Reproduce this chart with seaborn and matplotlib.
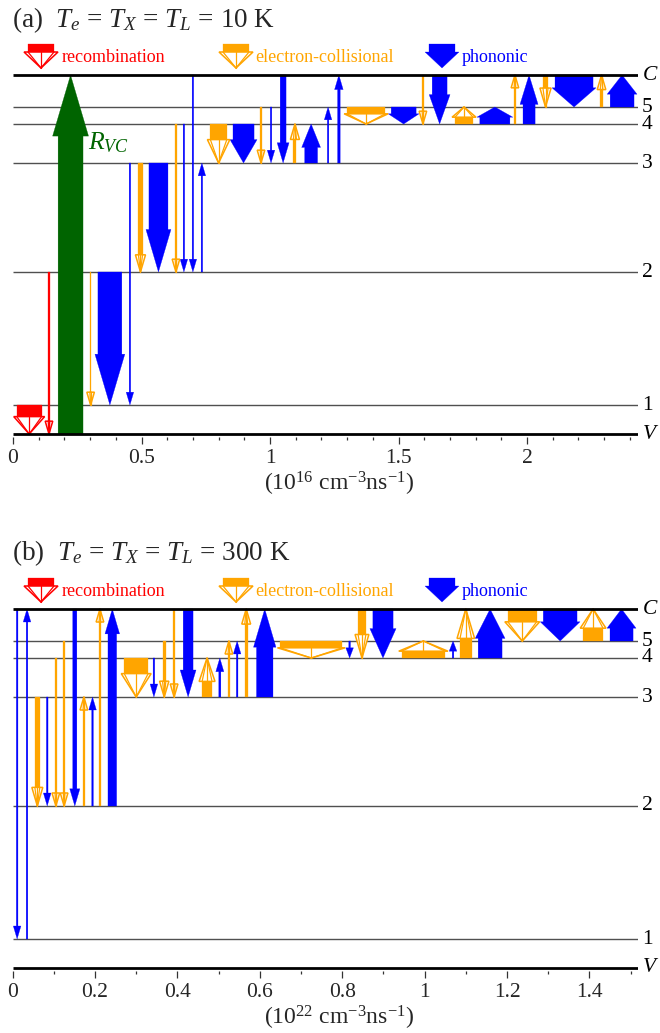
import matplotlib
matplotlib.use("Agg")
import matplotlib.pyplot as plt
import seaborn as sns
from matplotlib.patches import Polygon
from matplotlib.lines import Line2D
from matplotlib.ticker import MultipleLocator, FuncFormatter

# ---------------- data ----------------
LEVEL_NAMES = ["V", "1", "2", "3", "4", "5", "C"]
LEVEL_POS = [0, 29, 162, 271, 310, 327, 359]

KIND_COLOR = {"rec": "#FF0000", "col": "#FFA500", "pho": "#0000FF", "gen": "#006400"}
LEGEND_KINDS = ["rec", "col", "pho"]
LEGEND_LABELS = ["recombination", "electron-collisional", "phononic"]

# Panel (a): T = 10 K, rates in 1e16 cm^-3 ns^-1
A_X = [0.063, 0.140, 0.224, 0.302, 0.377, 0.455, 0.496, 0.566, 0.634, 0.665,
       0.700, 0.735, 0.800, 0.897, 0.965, 1.004, 1.051, 1.097, 1.160, 1.226,
       1.268, 1.374, 1.520, 1.595, 1.660, 1.755, 1.875, 1.953, 2.008, 2.072,
       2.183, 2.290, 2.370]
A_W = [0.097, 0.006, 0.097, 0.006, 0.093, 0.006, 0.016, 0.074, 0.006, 0.006,
       0.006, 0.006, 0.064, 0.082, 0.006, 0.006, 0.023, 0.012, 0.050, 0.006,
       0.010, 0.148, 0.097, 0.006, 0.058, 0.070, 0.117, 0.006, 0.047, 0.020,
       0.148, 0.010, 0.093]
A_FROM = ["1", "2", "V", "2", "2", "3", "3", "3", "4", "4",
          "C", "2", "4", "4", "5", "5", "C", "3", "3", "3",
          "3", "5", "5", "C", "C", "4", "4", "4", "4", "C",
          "C", "5", "5"]
A_TO = ["V", "V", "C", "1", "1", "1", "2", "2", "2", "2",
        "2", "3", "3", "3", "3", "3", "3", "4", "4", "5",
        "C", "4", "4", "4", "4", "5", "5", "C", "C", "5",
        "5", "C", "C"]
A_KIND = ["rec", "rec", "gen", "col", "pho", "pho", "col", "pho", "col", "pho",
          "pho", "pho", "col", "pho", "col", "pho", "pho", "col", "pho", "pho",
          "pho", "col", "pho", "col", "pho", "col", "pho", "col", "pho", "col",
          "pho", "col", "pho"]

# Panel (b): T = 300 K, rates in 1e22 cm^-3 ns^-1
B_X = [0.011, 0.035, 0.060, 0.084, 0.105, 0.125, 0.151, 0.173, 0.194, 0.212,
       0.242, 0.300, 0.343, 0.368, 0.392, 0.426, 0.472, 0.503, 0.525, 0.545,
       0.567, 0.612, 0.725, 0.818, 0.848, 0.899, 0.997, 1.069, 1.100, 1.159,
       1.237, 1.329, 1.409, 1.478]
B_W = [0.004, 0.004, 0.012, 0.004, 0.004, 0.004, 0.010, 0.004, 0.004, 0.004,
       0.021, 0.058, 0.004, 0.008, 0.004, 0.024, 0.024, 0.005, 0.004, 0.004,
       0.007, 0.040, 0.150, 0.004, 0.019, 0.049, 0.105, 0.004, 0.028, 0.058,
       0.070, 0.082, 0.048, 0.056]
B_FROM = ["C", "1", "3", "3", "4", "5", "C", "2", "2", "2",
          "2", "4", "4", "5", "C", "C", "3", "3", "3", "3",
          "3", "3", "5", "5", "C", "C", "4", "4", "4", "4",
          "C", "C", "5", "5"]
B_TO = ["1", "C", "2", "2", "2", "2", "2", "3", "3", "C",
        "C", "3", "3", "3", "3", "3", "4", "4", "5", "5",
        "C", "C", "4", "4", "4", "4", "5", "5", "C", "C",
        "5", "5", "C", "C"]
B_KIND = ["pho", "pho", "col", "pho", "col", "col", "pho", "col", "pho", "col",
          "pho", "col", "pho", "col", "col", "pho", "col", "pho", "col", "pho",
          "col", "pho", "col", "pho", "col", "pho", "col", "pho", "col", "pho",
          "col", "pho", "col", "pho"]

A_TITLE = r"(a)  $T_e$ = $T_X$ = $T_L$ = 10 K"
B_TITLE = r"(b)  $T_e$ = $T_X$ = $T_L$ = 300 K"
A_XLABEL = r"(10$^{16}$ cm$^{-3}$ns$^{-1}$)"
B_XLABEL = r"(10$^{22}$ cm$^{-3}$ns$^{-1}$)"
A_MAJOR, A_MINOR = 0.5, 0.1
B_MAJOR, B_MINOR = 0.2, 0.1

# ---------------- style ----------------
sns.set_theme(style="white")
plt.rcParams["font.family"] = ["Liberation Serif", "DejaVu Serif"]
plt.rcParams["mathtext.fontset"] = "custom"
plt.rcParams["mathtext.rm"] = "Liberation Serif"
plt.rcParams["mathtext.it"] = "Liberation Serif:italic"
plt.rcParams["mathtext.bf"] = "Liberation Serif:bold"

W, H, DPI = 660, 1033, 100
fig = plt.figure(figsize=(W / DPI, H / DPI), dpi=DPI)
lev = dict(zip(LEVEL_NAMES, LEVEL_POS))


def draw_arrow(ax, x, w, y0, y1, color, hollow, sx, extra=6.0, clip=True, z=3, head_len=None):
    L = abs(y1 - y0)
    d = 1 if y1 > y0 else -1
    hw_px = w * sx + extra
    hl = head_len if head_len is not None else min(1.7 * hw_px, 0.6 * L)
    hw = hw_px / sx
    base = y1 - d * hl
    if hollow:
        ax.add_patch(Polygon([(x - w / 2, y0), (x + w / 2, y0), (x + w / 2, base), (x - w / 2, base)],
                             closed=True, fc=color, ec=color, lw=0.2, zorder=z, clip_on=clip))
        ax.add_patch(Polygon([(x - hw / 2, base), (x + hw / 2, base), (x, y1)], closed=True,
                             fc="white", ec=color, lw=1.1, joinstyle="miter", zorder=z + 1, clip_on=clip))
        for xx in (x - w / 2, x, x + w / 2):
            ax.add_line(Line2D([xx, x], [base, y1], color=color, lw=0.9, zorder=z + 1, clip_on=clip))
    else:
        ax.add_patch(Polygon([(x - w / 2, y0), (x + w / 2, y0), (x + w / 2, base), (x + hw / 2, base),
                              (x, y1), (x - hw / 2, base), (x - w / 2, base)],
                             closed=True, fc=color, ec=color, lw=0.2, zorder=z, clip_on=clip))


def panel(X, Wd, FR, TO, KD, left_px, c_px, sx, major, minor, title, xlabel, title_y):
    width_px = W - 22 - left_px
    xmax = width_px / sx
    top_px = c_px - 2
    bot_px = c_px + 359 + 3
    ax = fig.add_axes([left_px / W, 1 - bot_px / H, width_px / W, (bot_px - top_px) / H])
    ax.set_xlim(0, xmax)
    ax.set_ylim(-3, 361)
    for s in ax.spines.values():
        s.set_visible(False)
    ax.set_yticks([])
    ax.patch.set_alpha(0)
    # levels
    ax.hlines([lev[n] for n in ["1", "2", "3", "4", "5"]], 0, xmax, color="#505050", lw=1.0, zorder=1)
    ax.hlines([lev["V"], lev["C"]], 0, xmax, color="black", lw=2.0, zorder=6)
    for n in LEVEL_NAMES:
        txt = r"$%s$" % n if n in ("C", "V") else n
        ax.annotate(txt, xy=(1, lev[n]), xycoords=("axes fraction", "data"), xytext=(4, 0),
                    textcoords="offset pixels", va="center", ha="left", fontsize=15.5, color="black",
                    annotation_clip=False)
    # arrows
    for x, w, f, t, k in zip(X, Wd, FR, TO, KD):
        extra = 11.0 if k == "gen" else 6.0
        draw_arrow(ax, x, w, lev[f], lev[t], KIND_COLOR[k], k in ("rec", "col"), sx, extra=extra)
    # legend
    icon_cx = [41, 236, 442]
    text_x = [62, 255, 462]
    for k, lab, cx, tx in zip(LEGEND_KINDS, LEGEND_LABELS, icon_cx, text_x):
        xc = (cx - left_px) / sx
        draw_arrow(ax, xc, 26 / sx, 359 + 31, 359 + 7, KIND_COLOR[k], k in ("rec", "col"), sx,
                   extra=8.0, clip=False, z=7, head_len=16)
        ax.text((tx - left_px) / sx, 359 + 18, lab, color=KIND_COLOR[k], fontsize=13,
                va="center", ha="left", clip_on=False)
    # ticks
    ax.xaxis.set_major_locator(MultipleLocator(major))
    ax.xaxis.set_minor_locator(MultipleLocator(minor))
    ax.xaxis.set_major_formatter(FuncFormatter(lambda v, p: f"{v:g}"))
    ax.tick_params(axis="x", which="both", bottom=True, direction="out", color="#333333", width=0.9)
    ax.tick_params(axis="x", which="major", length=5, pad=3.5, labelsize=15.5)
    ax.tick_params(axis="x", which="minor", length=2.5)
    fig.text(339 / W, 1 - (bot_px + 47) / H, xlabel, fontsize=17, va="center", ha="center")
    fig.text(12 / W, 1 - title_y / H, title, fontsize=19.5, va="center", ha="left")
    return ax


ax_a = panel(A_X, A_W, A_FROM, A_TO, A_KIND, 13, 75, 257, A_MAJOR, A_MINOR, A_TITLE, A_XLABEL, 20)
ax_a.text((88 - 13) / 257, 291, r"$R_{VC}$", color=KIND_COLOR["gen"], fontsize=18.5, va="center", ha="left")
ax_b = panel(B_X, B_W, B_FROM, B_TO, B_KIND, 12.6, 609, 412, B_MAJOR, B_MINOR, B_TITLE, B_XLABEL, 553)

fig.savefig("out.png", dpi=DPI, facecolor="white")
